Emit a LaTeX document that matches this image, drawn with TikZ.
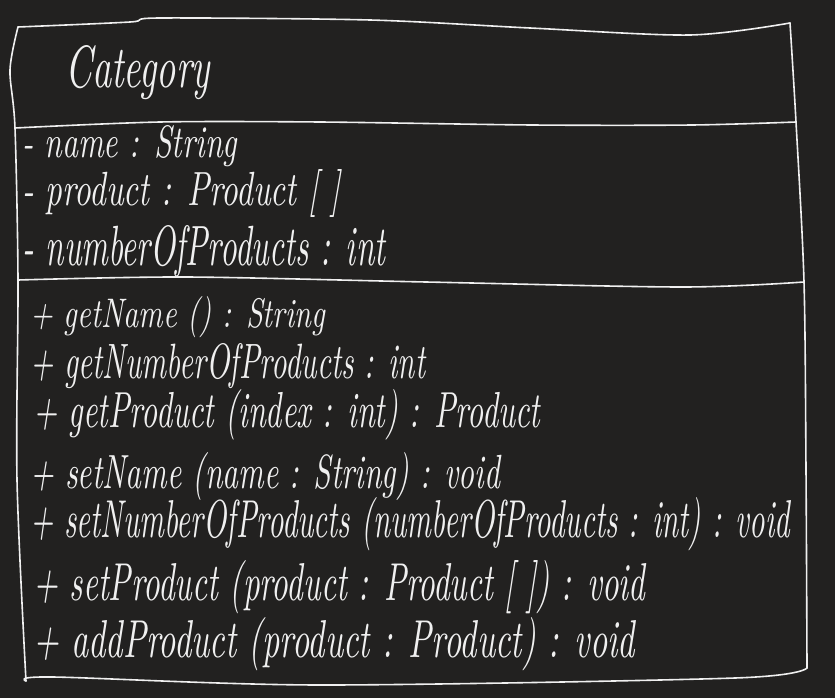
\documentclass[tikz,border=0pt]{standalone}
\usepackage{graphicx}
\definecolor{board}{HTML}{222120}
\definecolor{chalk}{HTML}{F0F0F0}
\newcommand{\hand}[3]{\resizebox{#1pt}{#2pt}{\itshape #3}}
\tikzset{
  stroke/.style={draw=chalk,line width=1.6pt,line join=round,line cap=round},
  member/.style={text=chalk,anchor=base west,inner sep=0pt}
}
\begin{document}
\begin{tikzpicture}[x=1pt,y=-1pt]

% board
\fill[board] (0,0) rectangle (835,698);
\useasboundingbox (0,0) rectangle (835,698);

% class box
\draw[stroke] plot[smooth] coordinates {(18,27) (130,22) (160,18) (370,20) (530,28) (690,35) (790,23)};
\draw[stroke] plot[smooth] coordinates {(15,128) (160,122) (320,122) (532,125) (692,125) (796,122)};
\draw[stroke] plot[smooth] coordinates {(18,280) (186,277) (426,282) (682,287) (804,282)};
\draw[stroke] plot[smooth] coordinates {(26,681) (53,677) (320,685) (735,678) (807,668)};
\draw[stroke] plot[smooth] coordinates {(18,27) (10,70) (15,128) (18,280) (17,480) (26,681)};
\draw[stroke] plot[smooth] coordinates {(790,23) (796,122) (804,282) (806,470) (807,668)};

% name
\node[member] (title) at (65,88) {\hand{145}{42}{Category}};

% attributes
\node[member] (name) at (22,158) {\hand{215}{32}{- name : String}};
\node[member] (product) at (22,205) {\hand{318}{36}{- product : Product [ ]}};
\node[member] (count) at (22,265) {\hand{363}{40}{- numberOfProducts : int}};

% operations
\node[member] (getname) at (30,327) {\hand{295}{31}{+ getName () : String}};
\node[member] (getcount) at (30,378) {\hand{395}{35}{+ getNumberOfProducts : int}};
\node[member] (getproduct) at (33,427) {\hand{507}{38}{+ getProduct (index : int) : Product}};
\node[member] (setname) at (30,488) {\hand{470}{36}{+ setName (name : String) : void}};
\node[member] (setcount) at (30,537) {\hand{760}{40}{+ setNumberOfProducts (numberOfProducts : int) : void}};
\node[member] (setproduct) at (33,600) {\hand{612}{40}{+ setProduct (product : Product [ ]) : void}};
\node[member] (addproduct) at (33,657) {\hand{602}{40}{+ addProduct (product : Product) : void}};
\end{tikzpicture}
\end{document}
